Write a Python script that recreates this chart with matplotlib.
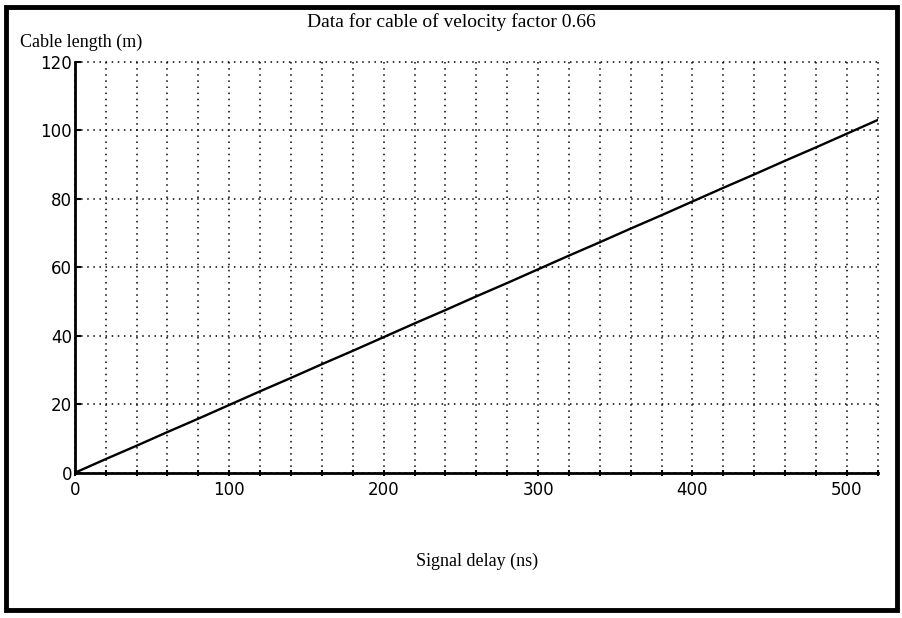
import numpy as np
import matplotlib.pyplot as plt
from matplotlib.patches import Rectangle
from matplotlib.ticker import MultipleLocator

# signal delay (ns) against cable length (m), velocity factor 0.66
delay_ns = [0, 20, 40, 60, 80, 100, 120, 140, 160, 180, 200, 220, 240, 260,
            280, 300, 320, 340, 360, 380, 400, 420, 440, 460, 480, 500, 520]
length_m = [0, 4.0, 7.9, 11.9, 15.8, 19.8, 23.8, 27.7, 31.7, 35.6, 39.6, 43.6, 47.5, 51.5,
            55.4, 59.4, 63.4, 67.3, 71.3, 75.2, 79.2, 83.2, 87.1, 91.1, 95.0, 99.0, 103.0]

x_ticks = [0, 100, 200, 300, 400, 500]
y_ticks = [0, 20, 40, 60, 80, 100, 120]

serif = 'Liberation Serif'
sans = 'DejaVu Sans'

fig = plt.figure(figsize=(9.02, 6.18), dpi=100)
ax = fig.add_axes([0.083, 0.235, 0.890, 0.665])

ax.plot(delay_ns, length_m, color='black', lw=1.7)

ax.set_xlim(0, 520)
ax.set_ylim(0, 120)
ax.xaxis.set_major_locator(MultipleLocator(20))
ax.yaxis.set_major_locator(MultipleLocator(20))
ax.grid(True, color='black', linestyle=(0, (1, 3)), lw=1.1)
for gl in ax.get_xgridlines() + ax.get_ygridlines():
    gl.set_clip_on(False)

ax.set_xticks(np.arange(0, 521, 20))
ax.set_xticklabels([str(v) if v in x_ticks else '' for v in range(0, 521, 20)],
                   fontname=sans, fontsize=12)
ax.set_yticks(y_ticks)
ax.set_yticklabels([str(v) for v in y_ticks], fontname=sans, fontsize=12)
ax.tick_params(axis='x', direction='inout', length=4, width=1.5, pad=4)
ax.tick_params(axis='y', direction='in', length=4, width=1.5, pad=2)

for side in ['top', 'right']:
    ax.spines[side].set_visible(False)
for side in ['left', 'bottom']:
    ax.spines[side].set_linewidth(2.0)

fig.text(0.50, 0.964, 'Data for cable of velocity factor 0.66', ha='center', va='center',
         fontname=serif, fontsize=14)
fig.text(0.022, 0.932, 'Cable length (m)', ha='left', va='center',
         fontname=serif, fontsize=13)
fig.text(0.529, 0.091, 'Signal delay (ns)', ha='center', va='center',
         fontname=serif, fontsize=13)

# outer frame
fig.patches.append(Rectangle((0.007, 0.013), 0.988, 0.975, transform=fig.transFigure,
                             fill=False, edgecolor='black', lw=3.5))

fig.savefig('out.png', dpi=100)
